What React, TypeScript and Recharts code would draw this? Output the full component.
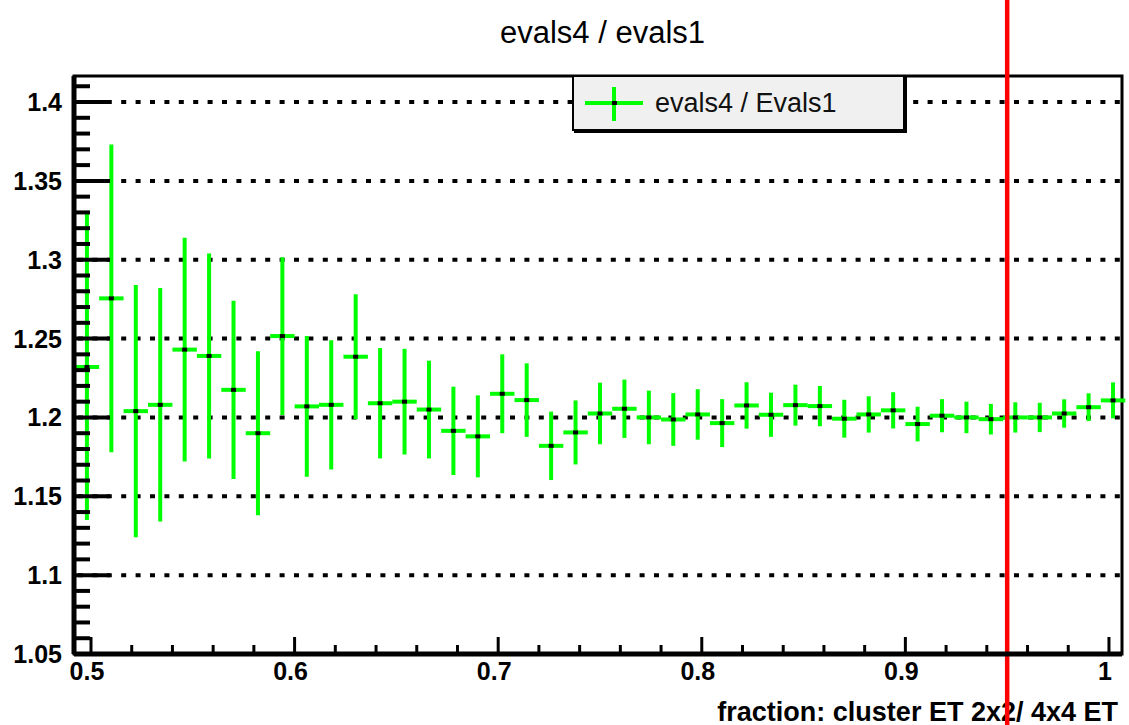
import {
  ComposedChart,
  Scatter,
  ErrorBar,
  XAxis,
  YAxis,
  ReferenceLine,
  ReferenceArea,
  Legend,
} from "recharts";

// bin centres of the 0.012-wide fraction bins
const binCenters = [
  0.498, 0.51, 0.522, 0.534, 0.546, 0.558, 0.57, 0.582, 0.594, 0.606, 0.618,
  0.63, 0.642, 0.654, 0.666, 0.678, 0.69, 0.702, 0.714, 0.726, 0.738, 0.75,
  0.762, 0.774, 0.786, 0.798, 0.81, 0.822, 0.834, 0.846, 0.858, 0.87, 0.882,
  0.894, 0.906, 0.918, 0.93, 0.942, 0.954, 0.966, 0.978, 0.99, 1.002,
];

// evals4 / Evals1 ratio per bin
const ratio = [
  1.232, 1.2755, 1.204, 1.208, 1.243, 1.239, 1.2175, 1.19, 1.2516, 1.207,
  1.208, 1.2385, 1.209, 1.21, 1.205, 1.1915, 1.188, 1.215, 1.211, 1.182,
  1.1905, 1.2025, 1.2055, 1.2, 1.1987, 1.2019, 1.1964, 1.2076, 1.2017,
  1.2078, 1.2072, 1.1992, 1.2019, 1.2045, 1.1958, 1.2011, 1.2, 1.1989, 1.2,
  1.2, 1.2025, 1.2065, 1.2108,
];

// statistical error on the ratio
const ratioErr = [
  0.097, 0.0975, 0.08, 0.074, 0.071, 0.065, 0.0565, 0.052, 0.05, 0.0446,
  0.041, 0.0396, 0.035, 0.0335, 0.031, 0.028, 0.026, 0.025, 0.0233, 0.0217,
  0.0203, 0.0195, 0.0185, 0.017, 0.0167, 0.016, 0.0152, 0.0147, 0.014, 0.013,
  0.0128, 0.012, 0.0115, 0.0115, 0.011, 0.0105, 0.01, 0.0097, 0.0096, 0.0093,
  0.009, 0.0088, 0.0114,
];

const binHalfWidth = 0.006;
const cutValue = 0.95;

const xMajorTicks = [0.5, 0.6, 0.7, 0.8, 0.9, 1];
const xMinorTicks = [
  0.52, 0.54, 0.56, 0.58, 0.62, 0.64, 0.66, 0.68, 0.72, 0.74, 0.76, 0.78,
  0.82, 0.84, 0.86, 0.88, 0.92, 0.94, 0.96, 0.98,
];
const yMajorTicks = [1.05, 1.1, 1.15, 1.2, 1.25, 1.3, 1.35, 1.4];
const yMinorTicks = [
  1.06, 1.07, 1.08, 1.09, 1.11, 1.12, 1.13, 1.14, 1.16, 1.17, 1.18, 1.19,
  1.21, 1.22, 1.23, 1.24, 1.26, 1.27, 1.28, 1.29, 1.31, 1.32, 1.33, 1.34,
  1.36, 1.37, 1.38, 1.39, 1.41,
];
const yGridLines = [1.1, 1.15, 1.2, 1.25, 1.3, 1.35, 1.4];

const data = binCenters.map((x, i) => ({
  x,
  y: ratio[i],
  ex: binHalfWidth,
  ey: ratioErr[i],
}));

const W = 1129;
const H = 725;
const PLOT_LEFT = 74;
const PLOT_BOTTOM = 654;
const GREEN = "#00ff00";
const FONT = "'Liberation Sans', Arial, Helvetica, sans-serif";

const isIn = (list: number[], v: number) =>
  list.some((t) => Math.abs(t - v) < 1e-6);

function YTick(props: any) {
  const { y, payload } = props;
  const major = isIn(yMajorTicks, payload.value);
  return (
    <g>
      <line
        x1={PLOT_LEFT}
        x2={PLOT_LEFT + (major ? 36 : 16)}
        y1={y}
        y2={y}
        stroke="#000"
        strokeWidth={4}
      />
      {major && (
        <text
          x={62}
          y={y}
          textAnchor="end"
          dominantBaseline="central"
          fontFamily={FONT}
          fontWeight="bold"
          fontSize={25}
          fill="#000"
        >
          {String(payload.value)}
        </text>
      )}
    </g>
  );
}

function XTick(props: any) {
  const { x, payload } = props;
  const major = isIn(xMajorTicks, payload.value);
  return (
    <g>
      <line
        x1={x}
        x2={x}
        y1={PLOT_BOTTOM}
        y2={PLOT_BOTTOM - (major ? 17 : 9)}
        stroke="#000"
        strokeWidth={3}
      />
      {major && (
        <text
          x={x - 4}
          y={671}
          textAnchor="middle"
          dominantBaseline="central"
          fontFamily={FONT}
          fontWeight="bold"
          fontSize={25}
          fill="#000"
        >
          {String(payload.value)}
        </text>
      )}
    </g>
  );
}

function LegendBox() {
  return (
    <div
      style={{
        boxSizing: "border-box",
        width: 333,
        height: 56,
        background: "#f0f0f0",
        border: "2px solid #000",
        boxShadow: "2px 2px 0 #000",
        position: "relative",
      }}
    >
      <svg width={80} height={52} style={{ position: "absolute", left: 0, top: 0 }}>
        <line x1={11} x2={69} y1={26} y2={26} stroke={GREEN} strokeWidth={4} />
        <line x1={40} x2={40} y1={10} y2={44} stroke={GREEN} strokeWidth={4} />
        <rect x={38} y={24} width={5} height={4} fill="#000" />
      </svg>
      <span
        style={{
          position: "absolute",
          left: 81,
          top: 26,
          transform: "translateY(-50%)",
          fontFamily: FONT,
          fontSize: 27,
          color: "#111",
          whiteSpace: "nowrap",
        }}
      >
        evals4 / Evals1
      </span>
    </div>
  );
}

export default function App() {
  return (
    <div style={{ position: "absolute", left: 0, top: 0, width: W, height: H, background: "#fff" }}>
      <div
        style={{
          position: "absolute",
          left: 0,
          width: 1205,
          top: 33,
          transform: "translateY(-50%)",
          textAlign: "center",
          fontFamily: FONT,
          fontSize: 31,
          color: "#000",
        }}
      >
        evals4 / evals1
      </div>
      <div
        style={{
          position: "absolute",
          right: W - 1118,
          top: 712,
          transform: "translateY(-50%)",
          fontFamily: FONT,
          fontWeight: "bold",
          fontSize: 27,
          color: "#000",
          whiteSpace: "nowrap",
        }}
      >
        fraction: cluster ET 2x2/ 4x4 ET
      </div>
      <div style={{ position: "absolute", left: 0, top: 0 }}>
        <ComposedChart
          width={W}
          height={H}
          data={data}
          margin={{ top: 76, right: 7, bottom: 0, left: 0 }}
        >
          <XAxis
            dataKey="x"
            type="number"
            domain={[0.49165, 1.0064]}
            allowDataOverflow
            ticks={[...xMajorTicks, ...xMinorTicks].sort((a, b) => a - b)}
            interval={0}
            height={71}
            tickLine={false}
            axisLine={{ stroke: "#000", strokeWidth: 5 }}
            tick={<XTick />}
          />
          <YAxis
            type="number"
            domain={[1.05, 1.4165]}
            allowDataOverflow
            ticks={[...yMajorTicks, ...yMinorTicks].sort((a, b) => a - b)}
            interval={0}
            width={74}
            tickLine={false}
            axisLine={{ stroke: "#000", strokeWidth: 5 }}
            tick={<YTick />}
          />
          {yGridLines.map((v) => (
            <ReferenceLine
              key={v}
              y={v}
              stroke="#000"
              strokeWidth={4}
              strokeDasharray="5 9.4"
              strokeDashoffset={10.4}
            />
          ))}
          <ReferenceArea
            x1={0.49165}
            x2={1.0064}
            y1={1.05}
            y2={1.4165}
            fill="none"
            stroke="#000"
            strokeWidth={3}
          />
          <Scatter
            dataKey="y"
            isAnimationActive={false}
            shape={(p: any) => (
              <rect x={p.cx - 2.5} y={p.cy - 2} width={5} height={4} fill="#000" />
            )}
          >
            <ErrorBar dataKey="ey" direction="y" width={0} stroke={GREEN} strokeWidth={4} isAnimationActive={false} />
            <ErrorBar dataKey="ex" direction="x" width={0} stroke={GREEN} strokeWidth={4} isAnimationActive={false} />
          </Scatter>
          <ReferenceLine
            x={cutValue}
            stroke="#ff0000"
            shape={(p: any) => (
              <line x1={p.x1} x2={p.x2} y1={0} y2={H} stroke="#ff0000" strokeWidth={4.5} />
            )}
          />
          <Legend
            layout="horizontal"
            verticalAlign="middle"
            align="center"
            wrapperStyle={{ left: 572, top: 75, width: 336, height: 59 }}
            content={() => <LegendBox />}
          />
        </ComposedChart>
      </div>
    </div>
  );
}
